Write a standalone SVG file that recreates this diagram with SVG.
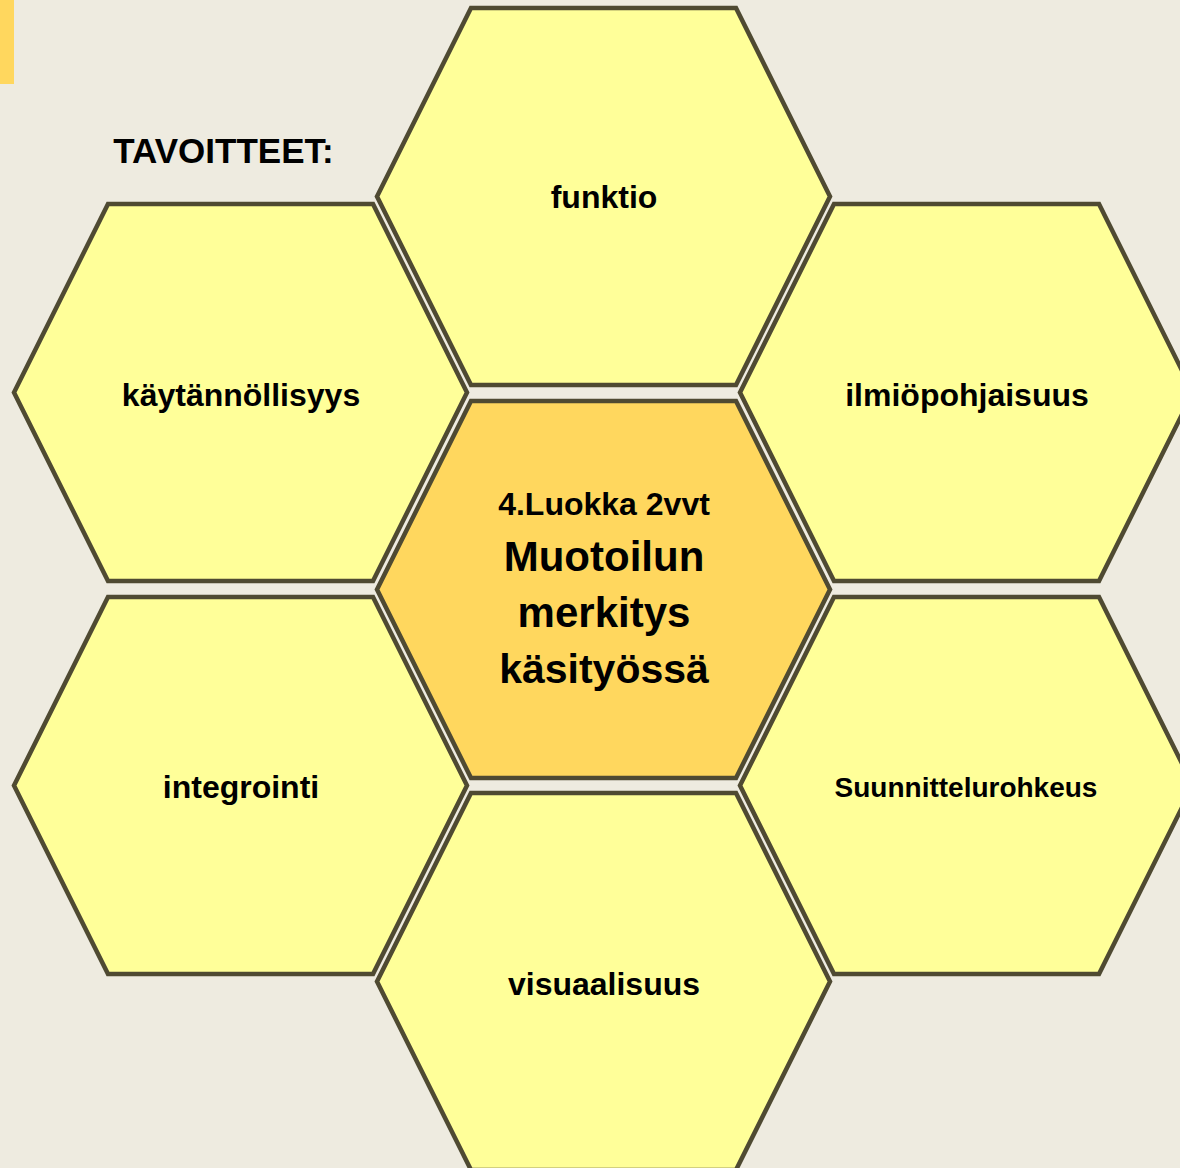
<svg xmlns="http://www.w3.org/2000/svg" width="1180" height="1168" viewBox="0 0 1180 1168">
<style>
.hex{fill:#FFFF99;stroke:#4F4A32;stroke-width:4.5;stroke-linejoin:miter}
.core{fill:#FFD75E}
text{font-family:"Liberation Sans",Arial,sans-serif;font-weight:bold;fill:#000;text-anchor:middle}
.lbl{font-size:32px}
.big{font-size:42px}
</style>
<defs>
<polygon id="hexshape" points="0,188.5 94,0 359,0 453,188.5 359,377 94,377"/>
</defs>
<rect x="0" y="0" width="1180" height="1168" fill="#EEEBE0"/>
<rect x="0" y="0" width="14" height="84" fill="#FFD75E"/>
<text x="223.5" y="163" style="font-size:35px">TAVOITTEET:</text>
<g id="connectors"></g>
<g id="node-funktio">
<use href="#hexshape" class="hex" x="377" y="8"/>
<text class="lbl" x="604" y="208">funktio</text>
</g>
<g id="node-kaytannollisyys">
<use href="#hexshape" class="hex" x="14" y="204"/>
<text class="lbl" x="241" y="406">käytännöllisyys</text>
</g>
<g id="node-ilmiopohjaisuus">
<use href="#hexshape" class="hex" x="740" y="204"/>
<text class="lbl" x="967" y="406">ilmiöpohjaisuus</text>
</g>
<g id="node-center">
<use href="#hexshape" class="hex core" x="377" y="401"/>
<text class="lbl" x="604" y="515">4.Luokka 2vvt</text>
<text class="big" x="604" y="571">Muotoilun</text>
<text class="big" x="604" y="627">merkitys</text>
<text class="big" x="604" y="683" style="font-size:41px">käsityössä</text>
</g>
<g id="node-integrointi">
<use href="#hexshape" class="hex" x="14" y="597"/>
<text class="lbl" x="241" y="798">integrointi</text>
</g>
<g id="node-suunnittelurohkeus">
<use href="#hexshape" class="hex" x="740" y="597"/>
<text x="966" y="797" style="font-size:28px">Suunnittelurohkeus</text>
</g>
<g id="node-visuaalisuus">
<use href="#hexshape" class="hex" x="377" y="793"/>
<text class="lbl" x="604" y="995">visuaalisuus</text>
</g>
</svg>
